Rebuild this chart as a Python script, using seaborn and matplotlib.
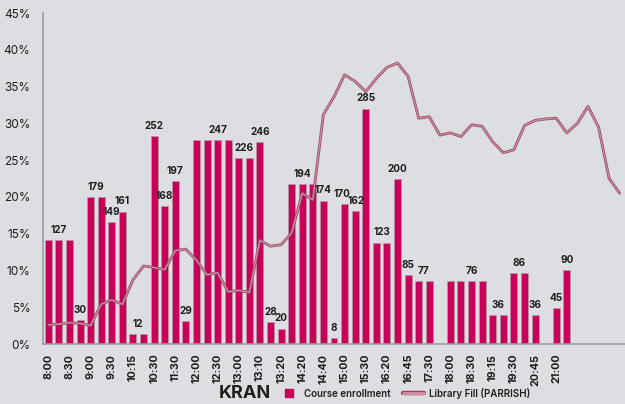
import matplotlib
matplotlib.use("Agg")
import matplotlib.pyplot as plt
import matplotlib.patheffects as pe
from matplotlib.lines import Line2D
import numpy as np
import pandas as pd
import seaborn as sns

# ---------------- data ----------------
n_slots = 55
tick_positions = list(range(0, 50, 2))
tick_labels = ["8:00", "8:30", "9:00", "9:30", "10:15", "10:30", "11:30", "12:00",
               "12:30", "13:00", "13:10", "13:20", "14:20", "14:40", "15:00", "15:30",
               "16:20", "16:45", "17:30", "18:00", "18:30", "19:15", "19:30", "20:45",
               "21:00"]

# course enrollment (% of axis scale) per time slot, None = no bar
enroll_pct = [14.1, 14.1, 14.1, 3.3, 20.0, 20.0, 16.6, 18.0, 1.3, 1.3,
              28.3, 18.8, 22.1, 3.1, 27.7, 27.7, 27.7, 27.7, 25.3, 25.3,
              27.5, 3.0, 2.1, 21.7, 21.7, 21.7, 19.5, 0.8, 19.0, 18.1,
              32.0, 13.8, 13.8, 22.4, 9.4, 8.6, 8.6, None, 8.5, 8.5,
              8.5, 8.5, 3.9, 3.9, 9.6, 9.6, 3.9, None, 4.9, 10.0,
              None, None, None, None, None]

# enrollment counts shown as labels (slot position, text)
label_pos = [1, 3, 4.5, 6, 7, 8.5, 10, 11, 12, 13, 16, 18.5, 20, 21, 22, 24, 26, 27,
             27.75, 29.1, 30, 31.5, 33, 34, 35.5, 40, 42.5, 44.5, 46, 48, 49]
label_text = ["127", "30", "179", "149", "161", "12", "252", "168", "197", "29", "247",
              "226", "246", "28", "20", "194", "174", "8", "170", "162", "285", "123",
              "200", "85", "77", "76", "36", "86", "36", "45", "90"]

# library fill (%) per slot
library_fill = [2.6, 2.7, 2.9, 2.8, 2.5, 5.4, 6.0, 5.4, 8.7, 10.6,
                10.4, 10.1, 12.7, 12.9, 11.4, 9.4, 9.7, 7.1, 7.3, 7.0,
                14.1, 13.3, 13.5, 15.1, 20.5, 19.6, 31.2, 33.6, 36.6, 35.7,
                34.3, 36.1, 37.6, 38.2, 36.4, 30.7, 30.9, 28.4, 28.7, 28.2,
                29.8, 29.6, 27.5, 26.0, 26.4, 29.7, 30.4, 30.6, 30.7, 28.7,
                30.0, 32.3, 29.5, 22.5, 20.5]

# ---------------- style ----------------
bg = "#dddee2"
bar_color = "#c8005a"
line_core = "#d98aa6"
line_edge = "#8a4d63"
text_color = "#1e1e1e"
spine_color = "#9b9b9e"

sns.set_theme(style="white")
plt.rcParams["font.family"] = ["Inter", "DejaVu Sans"]

fig = plt.figure(figsize=(6.25, 4.04), dpi=100, facecolor=bg)
ax = fig.add_axes([0.0688, 0.1485, 0.9312, 0.8193], facecolor=bg)

df = pd.DataFrame({"slot": np.arange(n_slots), "enroll": enroll_pct, "fill": library_fill})
bars_df = df.dropna(subset=["enroll"])

sns.barplot(data=bars_df, x="slot", y="enroll", native_scale=True, color=bar_color,
            saturation=1, width=0.66, edgecolor="#b59aa6", linewidth=0.5, ax=ax, zorder=2)

sns.lineplot(data=df, x="slot", y="fill", ax=ax, color=line_core, linewidth=0.9, zorder=3,
             path_effects=[pe.Stroke(linewidth=2.0, foreground=line_edge), pe.Normal()])

# value labels (height taken from the bar(s) under each label)
enroll_arr = np.array([np.nan if v is None else v for v in enroll_pct], dtype=float)
for p, t in zip(label_pos, label_text):
    lo, hi = int(round(p - 0.25)), int(round(p + 0.25))
    h = np.nanmax(enroll_arr[[lo, hi]])
    ax.text(p, h + 0.7, t, ha="center", va="bottom", fontsize=7.2, fontweight="bold",
            color=text_color, zorder=4)

ax.set_xlim(-0.5, 54.2)
ax.set_ylim(0, 45)
ax.set_yticks(np.arange(0, 46, 5))
ax.set_yticklabels([f"{v}%" for v in range(0, 46, 5)], fontsize=8.5, color=text_color)
ax.set_xticks(tick_positions)
ax.set_xticklabels(tick_labels, rotation=90, fontsize=7.8, fontweight="bold", color=text_color)
ax.set_xticks(np.arange(-0.5, n_slots, 1), minor=True)
ax.tick_params(axis="x", which="major", length=0, pad=7)
ax.tick_params(axis="x", which="minor", length=3, width=0.8, color=spine_color, direction="out")
ax.tick_params(axis="y", length=0, pad=9)
ax.set_xlabel("")
ax.set_ylabel("")
ax.grid(False)
for s in ["top", "right"]:
    ax.spines[s].set_visible(False)
for s in ["left", "bottom"]:
    ax.spines[s].set_color(spine_color)
    ax.spines[s].set_linewidth(1.2)

# title + legend
fig.text(0.392, 0.027, "KRAN", ha="center", va="center", fontsize=13, fontweight="bold",
         color=text_color)
handles = [
    Line2D([], [], marker="s", linestyle="none", markersize=5.5, markerfacecolor=bar_color,
           markeredgecolor=bar_color),
    Line2D([], [], color=line_core, linewidth=2.0,
           path_effects=[pe.Stroke(linewidth=3.2, foreground=line_edge), pe.Normal()]),
]
fig.legend(handles, ["Course enrollment", "Library Fill (PARRISH)"], loc="center left",
           bbox_to_anchor=(0.432, 0.027), ncol=2, frameon=False,
           handlelength=2.1, handletextpad=0.5, columnspacing=1.3, labelcolor=text_color,
           prop={"family": ["Inter", "DejaVu Sans"], "weight": "semibold", "size": 7.0})

fig.savefig("out.png", dpi=100, facecolor=bg)
